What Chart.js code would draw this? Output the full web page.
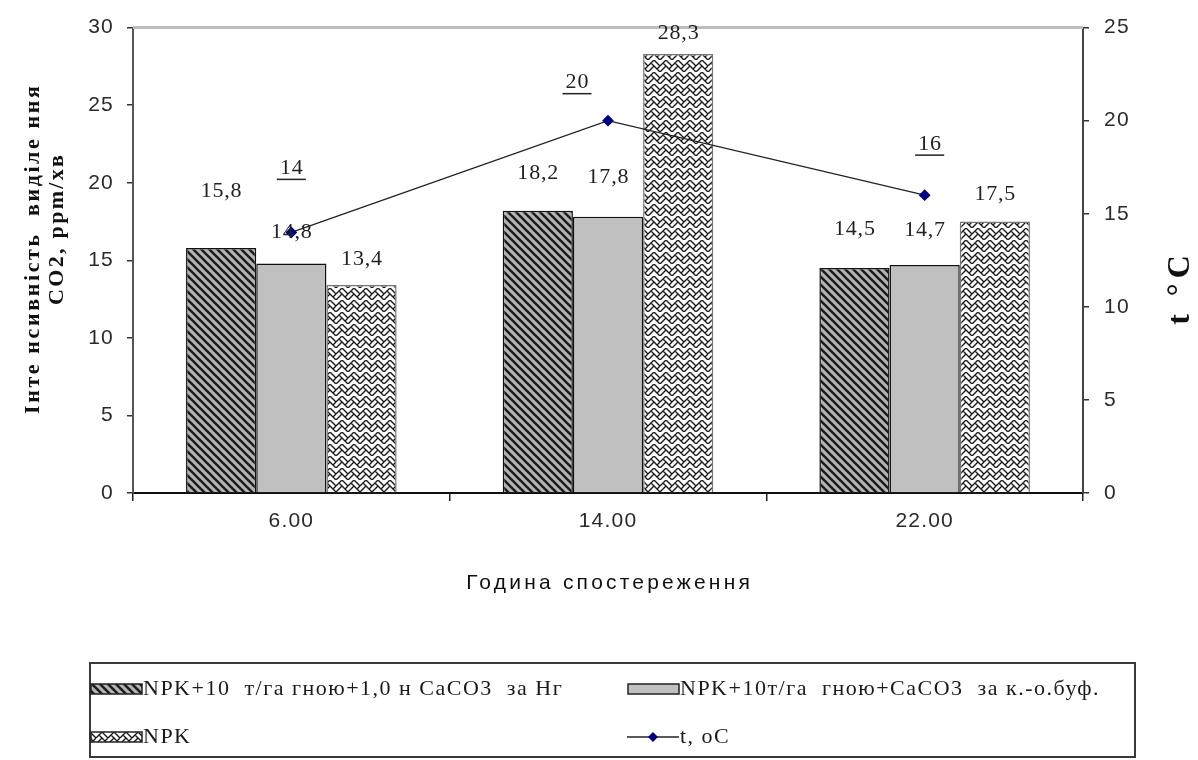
<!DOCTYPE html>
<html><head><meta charset="utf-8">
<script src="https://cdn.jsdelivr.net/npm/chart.js@4/dist/chart.umd.min.js"></script>
<style>html,body{margin:0;padding:0;background:#fff;}#wrap{width:1198px;height:760px;}</style>
</head><body><div id="wrap"><canvas id="c" width="1198" height="760"></canvas></div>
<script>
const categories = ['6.00', '14.00', '22.00'];
const seriesNames = ['NPK+10  т/га гною+1,0 н CaCO3  за Нг', 'NPK+10т/га  гною+CaCO3  за к.-о.буф.', 'NPK', 't, oC'];
const series1 = [15.8, 18.2, 14.5];
const series2 = [14.8, 17.8, 14.7];
const series3 = [13.4, 28.3, 17.5];
const temperature = [14, 20, 16];
const leftTicks = [0, 5, 10, 15, 20, 25, 30];
const rightTicks = [0, 5, 10, 15, 20, 25];
const xTitle = 'Година спостереження';
const yTitle = ['Інте нсивність  виділе ння', 'CO2, ppm/хв'];
const y2Title = 't °C';

// style-only: label offsets (px) as placed in the original
const barLabelOffsets = [[57, 37, 39], [31, 40, 35], [26, 21, 27]];
const lineLabelOffsets = [[0, -64], [-31, -38], [5, -51]];

const canvas = document.getElementById('c');
const ctx0 = canvas.getContext('2d');

function stripePattern() {
  const c = document.createElement('canvas'); c.width = c.height = 8;
  const g = c.getContext('2d');
  g.fillStyle = '#b4b4b4'; g.fillRect(0, 0, 8, 8);
  g.strokeStyle = '#1e1e1e'; g.lineWidth = 2.6;
  g.beginPath();
  g.moveTo(-2, -2); g.lineTo(10, 10);
  g.moveTo(-2, 6); g.lineTo(2, 10);
  g.moveTo(6, -2); g.lineTo(10, 2);
  g.stroke();
  return ctx0.createPattern(c, 'repeat');
}
function weavePattern() {
  const c = document.createElement('canvas'); c.width = c.height = 12;
  const g = c.getContext('2d');
  g.fillStyle = '#ffffff'; g.fillRect(0, 0, 12, 12);
  g.strokeStyle = '#1a1a1a'; g.lineWidth = 1.4;
  g.beginPath();
  g.moveTo(0, 6); g.lineTo(6, 0); g.lineTo(12, 6);
  g.moveTo(0, 12); g.lineTo(6, 6); g.lineTo(12, 12);
  g.moveTo(3, 3); g.lineTo(6, 6);
  g.moveTo(9, 9); g.lineTo(12, 6);
  g.stroke();
  return ctx0.createPattern(c, 'repeat');
}
const pat1 = stripePattern();
const pat3 = weavePattern();

const sansTick = {family: 'Liberation Sans', size: 21};

function spacedText(ctx, text, x, y, spacing) {
  ctx.letterSpacing = spacing + 'px';
  ctx.fillText(text, x + (ctx.textAlign === 'center' ? spacing / 2 : 0), y);
  ctx.letterSpacing = '0px';
}

const extras = {
  id: 'extras',
  beforeDraw(chart) { chart.ctx.letterSpacing = '1.2px'; },
  afterDatasetsDraw(chart) {
    const ctx = chart.ctx;
    const ca = chart.chartArea;
    ctx.save();
    ctx.strokeStyle = '#bdbdbd'; ctx.lineWidth = 3;
    ctx.beginPath(); ctx.moveTo(ca.left, ca.top); ctx.lineTo(ca.right, ca.top); ctx.stroke();
    ctx.restore();
    ctx.save();
    ctx.font = '22px "Liberation Serif"'; ctx.fillStyle = '#222'; ctx.textAlign = 'center'; ctx.textBaseline = 'middle';
    [0, 1, 2].forEach(di => {
      const meta = chart.getDatasetMeta(di);
      meta.data.forEach((el, i) => {
        const v = chart.data.datasets[di].data[i];
        spacedText(ctx, String(v).replace('.', ','), el.x, el.y - barLabelOffsets[di][i], 0.8);
      });
    });
    const lm = chart.getDatasetMeta(3);
    lm.data.forEach((el, i) => {
      const t = String(chart.data.datasets[3].data[i]);
      const x = el.x + lineLabelOffsets[i][0], y = el.y + lineLabelOffsets[i][1];
      spacedText(ctx, t, x, y, 0.8);
      const w = ctx.measureText(t).width + 1;
      ctx.strokeStyle = '#222'; ctx.lineWidth = 1.5;
      ctx.beginPath(); ctx.moveTo(x - w / 2 - 3, y + 11); ctx.lineTo(x + w / 2 + 3, y + 11); ctx.stroke();
    });
    ctx.restore();
  },
  afterDraw(chart) {
    const ctx = chart.ctx;
    ctx.save();
    ctx.fillStyle = '#111'; ctx.textAlign = 'center'; ctx.textBaseline = 'middle';
    ctx.font = '21px "Liberation Sans"';
    spacedText(ctx, xTitle, 608, 583, 3.2);
    ctx.save();
    ctx.translate(33, 250); ctx.rotate(-Math.PI / 2);
    ctx.font = 'bold 22px "Liberation Serif"';
    spacedText(ctx, yTitle[0], 0, 0, 2.6);
    spacedText(ctx, yTitle[1], 20, 24, 2.3);
    ctx.restore();
    ctx.save();
    ctx.translate(1181, 290); ctx.rotate(-Math.PI / 2);
    ctx.font = 'bold 32px "Liberation Serif"';
    spacedText(ctx, y2Title, 0, 0, 5);
    ctx.restore();
    ctx.restore();
    // legend
    ctx.save();
    ctx.strokeStyle = '#3a3a3a'; ctx.lineWidth = 2;
    ctx.strokeRect(90, 663, 1045, 94);
    const ds = chart.data.datasets;
    const pos = [[90, 689], [627, 689], [90, 737], [627, 737]];
    ctx.font = '22px "Liberation Serif"'; ctx.textBaseline = 'middle'; ctx.textAlign = 'left';
    ds.forEach((d, i) => {
      const [x, y] = pos[i];
      if (i < 3) {
        ctx.fillStyle = d.backgroundColor;
        ctx.fillRect(x + 1, y - 5, 51, 10);
        ctx.strokeStyle = '#222'; ctx.lineWidth = 1.5;
        ctx.strokeRect(x + 1, y - 5, 51, 10);
      } else {
        ctx.strokeStyle = '#222'; ctx.lineWidth = 1.5;
        ctx.beginPath(); ctx.moveTo(x, y); ctx.lineTo(x + 52, y); ctx.stroke();
        ctx.fillStyle = '#000080';
        ctx.beginPath(); ctx.moveTo(x + 26, y - 5); ctx.lineTo(x + 31, y); ctx.lineTo(x + 26, y + 5); ctx.lineTo(x + 21, y); ctx.closePath(); ctx.fill();
      }
      ctx.fillStyle = '#1a1a1a';
      spacedText(ctx, d.label, x + 53, y, 1.5);
    });
    ctx.restore();
  }
};

new Chart(canvas, {
  data: {
    labels: categories,
    datasets: [
      {type: 'bar', label: seriesNames[0], data: series1, backgroundColor: pat1, borderColor: '#111', borderWidth: 1.5, yAxisID: 'y', order: 2},
      {type: 'bar', label: seriesNames[1], data: series2, backgroundColor: '#c0c0c0', borderColor: '#111', borderWidth: 1.5, yAxisID: 'y', order: 2},
      {type: 'bar', label: seriesNames[2], data: series3, backgroundColor: pat3, borderColor: '#777', borderWidth: 1.5, yAxisID: 'y', order: 2},
      {type: 'line', label: seriesNames[3], data: temperature, yAxisID: 'y1', borderColor: '#222', borderWidth: 1.3,
        pointStyle: 'rectRot', pointRadius: 5, pointBackgroundColor: '#000080', pointBorderColor: '#000080', order: 0}
    ]
  },
  options: {
    responsive: false, animation: false, devicePixelRatio: 1,
    layout: {padding: {top: 21, bottom: 160, left: 0, right: 0}},
    datasets: {bar: {categoryPercentage: 0.665, barPercentage: 1.0}},
    plugins: {legend: {display: false}, tooltip: {enabled: false}},
    scales: {
      x: {
        offset: true,
        grid: {offset: true, drawOnChartArea: false, tickLength: 8, color: '#222', lineWidth: 1.5},
        border: {color: '#111', width: 2},
        ticks: {font: sansTick, color: '#2a2a2a', padding: 8},
        afterFit(s) { s.height = 107; }
      },
      y: {
        position: 'left', min: 0, max: 30,
        afterBuildTicks(s) { s.ticks = leftTicks.map(v => ({value: v})); },
        grid: {drawOnChartArea: false, tickLength: 6, color: '#333', lineWidth: 1.5},
        border: {color: '#555', width: 2},
        ticks: {font: sansTick, color: '#2a2a2a', padding: 13},
        afterFit(s) { s.width = 133; }
      },
      y1: {
        position: 'right', min: 0, max: 25,
        afterBuildTicks(s) { s.ticks = rightTicks.map(v => ({value: v})); },
        grid: {drawOnChartArea: false, tickLength: 6, color: '#333', lineWidth: 1.5},
        border: {color: '#444', width: 2},
        ticks: {font: sansTick, color: '#2a2a2a', padding: 15},
        afterFit(s) { s.width = 115; }
      }
    }
  },
  plugins: [extras]
});
</script>
</body></html>
